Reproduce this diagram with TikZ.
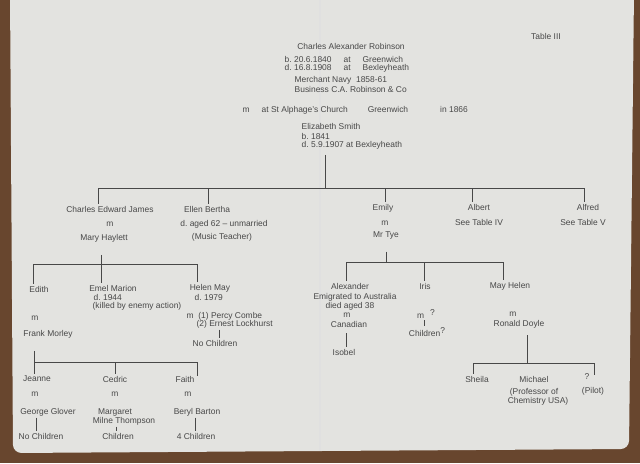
\documentclass[tikz,border=0pt]{standalone}
\usepackage{fontspec}
\setmainfont{Liberation Sans}
\usetikzlibrary{positioning}
\definecolor{tabletop}{RGB}{104,70,46}
\definecolor{paper}{RGB}{227,227,224}
\definecolor{ink}{RGB}{72,72,72}

\begin{document}
\begin{tikzpicture}[x=0.025cm,y=-0.025cm,
    hand/.style={font=\fontsize{6}{7.5}\selectfont,text=ink,inner sep=1pt},
    link/.style={draw=ink,line width=0.6pt}]
        \fill[tabletop] (0,0) rectangle (640,463);
        \useasboundingbox (0,0) rectangle (640,463);
        \fill[paper,rounded corners=6pt] (10,-8) -- (634,-8) -- (629,449) -- (13,453) -- cycle;
        \draw[black!12,line width=1.2pt] (320,0) -- (320,451);

        \node[hand] (tab) at (546,36) {Table III};

        % Charles Alexander and Elizabeth
        \node[hand] (car) at (351,46) {Charles Alexander Robinson};
        \node[hand,anchor=west] (carb) at (283,59) {b.\ 20.6.1840\hspace{3mm}at\hspace{3mm}Greenwich};
        \node[hand,anchor=west] (card) at (283,68) {d.\ 16.8.1908\hspace{3mm}at\hspace{3mm}Bexleyheath};
        \node[hand,anchor=west] (navy) at (293,80) {Merchant Navy\ \ 1858-61};
        \node[hand,anchor=west] (busi) at (293,89) {Business C.A.\ Robinson \& Co};
        \node[hand,anchor=west] (marr) at (241,110) {m\hspace{3mm}at St Alphage's Church\hspace{5mm}Greenwich\hspace{8mm}in 1866};
        \node[hand,anchor=west] (eliz) at (300,126) {Elizabeth Smith};
        \node[hand,anchor=west] (elb) at (300,136) {b.\ 1841};
        \node[hand,anchor=west] (eld) at (300,145) {d.\ 5.9.1907 at Bexleyheath};

        \coordinate (b1) at (325,188);
        \coordinate (b1l) at (98,188);
        \coordinate (b1r) at (584,188);
        \draw[link,shorten <=3pt] (eld.south -| b1) -- (b1);
        \draw[link] (b1l) -- (b1r);

        % children
        \node[hand] (cej) at (110,209) {Charles Edward James};
        \node[hand] (cejm) at (110,224) {m};
        \node[hand] (mary) at (104,238) {Mary Haylett};
        \node[hand] (ellen) at (207,209) {Ellen Bertha};
        \node[hand] (ellend) at (224,224) {d.\ aged 62 -- unmarried};
        \node[hand] (ellenj) at (222,237) {(Music Teacher)};
        \node[hand] (emily) at (383,208) {Emily};
        \node[hand] (emilym) at (385,223) {m};
        \node[hand] (tye) at (386,235) {Mr Tye};
        \node[hand] (albert) at (479,207) {Albert};
        \node[hand] (albertt) at (479,222) {See Table IV};
        \node[hand] (alfred) at (588,207) {Alfred};
        \node[hand] (alfredt) at (583,222) {See Table V};

        \coordinate (d1) at (208,188);
        \coordinate (d2) at (385,188);
        \coordinate (d3) at (472,188);
        \draw[link] (b1l) -- (b1l |- cej.north);
        \draw[link] (d1) -- (d1 |- ellen.north);
        \draw[link] (d2) -- (d2 |- emily.north);
        \draw[link] (d3) -- (d3 |- albert.north);
        \draw[link] (b1r) -- (b1r |- alfred.north);

        % Charles Edward James
        \coordinate (b2) at (101,264);
        \coordinate (b2l) at (33,264);
        \coordinate (b2r) at (197,264);
        \draw[link,shorten <=8pt] (mary.south -| b2) -- (b2);
        \draw[link] (b2l) -- (b2r);

        \node[hand] (edith) at (39,289) {Edith};
        \node[hand] (edithm) at (35,318) {m};
        \node[hand] (frank) at (48,334) {Frank Morley};
        \node[hand] (emel) at (113,288) {Emel Marion};
        \node[hand,anchor=west] (emeld) at (92,297) {d.\ 1944};
        \node[hand,anchor=west] (emelk) at (91,306) {(killed by enemy action)};
        \node[hand] (helen) at (210,288) {Helen May};
        \node[hand,anchor=west] (helend) at (193,297) {d.\ 1979};
        \node[hand,anchor=west] (helenm) at (185,316) {m\ \ (1) Percy Combe};
        \node[hand,anchor=west] (helenmm) at (195,324) {(2) Ernest Lockhurst};
        \node[hand] (helenc) at (215,343) {No Children};

        \draw[link] (b2l) -- (b2l |- edith.north);
        \draw[link] (b2) -- (b2 |- emel.north);
        \draw[link] (b2r) -- (b2r |- helen.north);
        \coordinate (v1) at (219,330);
        \draw[link] (v1 |- helenmm.south) -- (v1 |- helenc.north);

        % Edith
        \coordinate (b3l) at (34,362);
        \coordinate (b3) at (115,362);
        \coordinate (b3r) at (197,362);
        \coordinate (b3e) at (197,376);
        \draw[link,shorten <=8pt] (frank.south -| b3l) -- (b3l);
        \draw[link] (b3l) -- (b3r) -- (b3e);

        \node[hand] (jeanne) at (37,379) {Jeanne};
        \node[hand] (jeannem) at (35,394) {m};
        \node[hand] (george) at (48,412) {George Glover};
        \node[hand] (jeannec) at (41,436) {No Children};
        \node[hand] (cedric) at (115,379) {Cedric};
        \node[hand] (cedricm) at (115,394) {m};
        \node[hand] (marg) at (115,412) {Margaret};
        \node[hand] (milne) at (124,421) {Milne Thompson};
        \node[hand] (cedricc) at (118,436) {Children};
        \node[hand] (faith) at (185,379) {Faith};
        \node[hand] (faithm) at (188,394) {m};
        \node[hand] (beryl) at (197,412) {Beryl Barton};
        \node[hand] (faithc) at (196,436) {4 Children};

        \draw[link] (b3l) -- (b3l |- jeanne.north);
        \draw[link] (b3) -- (b3 |- cedric.north);
        \coordinate (v2) at (36,420);
        \coordinate (v3) at (116,420);
        \coordinate (v4) at (195,420);
        \draw[link] (v2 |- george.south) -- (v2 |- jeannec.north);
        \draw[link] (v3 |- milne.south) -- (v3 |- cedricc.north);
        \draw[link] (v4 |- beryl.south) -- (v4 |- faithc.north);

        % Emily
        \coordinate (b4) at (386,262);
        \coordinate (b4l) at (346,262);
        \coordinate (b4m) at (424,262);
        \coordinate (b4r) at (503,262);
        \draw[link,shorten <=8pt] (tye.south -| b4) -- (b4);
        \draw[link] (b4l) -- (b4r);

        \node[hand] (alex) at (350,286) {Alexander};
        \node[hand] (alexe) at (355,297) {Emigrated to Australia};
        \node[hand] (alexd) at (350,306) {died aged 38};
        \node[hand] (alexm) at (347,315) {m};
        \node[hand] (canad) at (349,324) {Canadian};
        \node[hand] (isobel) at (344,352) {Isobel};
        \node[hand] (iris) at (425,286) {Iris};
        \node[hand] (irism) at (426,314) {m\hspace{1.5mm}\raisebox{2pt}{?}};
        \node[hand] (irisc) at (427,332) {Children\raisebox{2pt}{?}};
        \node[hand] (may) at (510,286) {May Helen};
        \node[hand] (maym) at (513,314) {m};
        \node[hand] (ronald) at (519,324) {Ronald Doyle};

        \draw[link] (b4l) -- (b4l |- alex.north);
        \draw[link] (b4m) -- (b4m |- iris.north);
        \draw[link] (b4r) -- (b4r |- may.north);
        \coordinate (v5) at (346,340);
        \coordinate (v6) at (424,320);
        \draw[link,shorten <=3pt] (v5 |- canad.south) -- (v5 |- isobel.north);
        \draw[link] (v6 |- irism.south) -- (v6 |- irisc.north);

        % May Helen
        \coordinate (b5) at (527,363);
        \coordinate (b5l) at (473,363);
        \coordinate (b5r) at (594,363);
        \coordinate (b5e) at (594,375);
        \draw[link,shorten <=4pt] (ronald.south -| b5) -- (b5);
        \draw[link] (b5l) -- (b5r) -- (b5e);

        \node[hand] (sheila) at (477,379) {Sheila};
        \node[hand] (michael) at (534,379) {Michael};
        \node[hand] (prof) at (534,392) {(Professor of};
        \node[hand] (chem) at (538,401) {Chemistry USA)};
        \node[hand] (unk) at (587,377) {?};
        \node[hand] (pilot) at (593,391) {(Pilot)};

        \draw[link] (b5l) -- (b5l |- sheila.north);
      \end{tikzpicture}
\end{document}
